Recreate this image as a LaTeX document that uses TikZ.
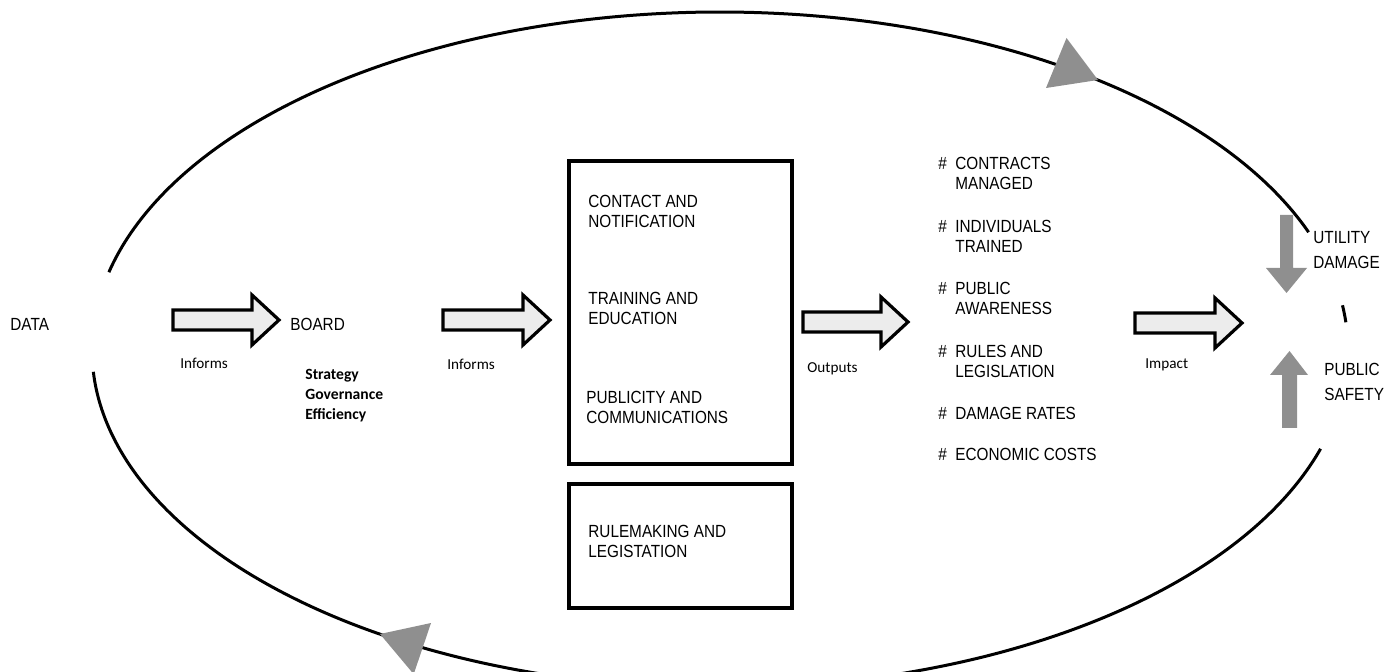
\documentclass[tikz,border=0pt]{standalone}
\usepackage{fontspec}
\setmainfont{Liberation Sans}
\newfontfamily\narrowfont[FakeStretch=0.87]{Liberation Sans}
\newfontfamily\calibrifont{Carlito}
\definecolor{blkfill}{RGB}{236,236,236}
\definecolor{trigray}{RGB}{143,143,143}
\newcommand\blockarrow[3]{%
  \draw[blk] (#1,#3-10) -- (#2-27,#3-10) -- (#2-27,#3-25) -- (#2,#3) -- (#2-27,#3+25) -- (#2-27,#3+10) -- (#1,#3+10) -- cycle;}
\begin{document}
\begin{tikzpicture}[x=0.5pt,y=-0.5pt,
  lbl/.style={anchor=north west,inner sep=0pt,align=left,font=\narrowfont\fontsize{8.8pt}{10pt}\selectfont},
  lblwide/.style={lbl,font=\narrowfont\fontsize{8.8pt}{12.5pt}\selectfont},
  small/.style={anchor=north west,inner sep=0pt,align=left,font=\calibrifont\fontsize{7.6pt}{10pt}\selectfont},
  smallbold/.style={anchor=north west,inner sep=0pt,align=left,font=\calibrifont\bfseries\fontsize{7.8pt}{10pt}\selectfont},
  blk/.style={draw=black,fill=blkfill,line width=1.6pt,line join=miter},
  boxline/.style={draw=black,line width=2pt},
  ell/.style={draw=black,line width=1.5pt},
  tri/.style={fill=trigray,draw=none}]
\useasboundingbox (0,0) rectangle (1396,672);
% ellipse arcs
\draw[ell] plot[domain=20.4:166.7,samples=150,smooth] ({720+628*cos(\x)},{350-338*sin(\x)});
\draw[ell] plot[domain=183.7:343,samples=150,smooth] ({720+628*cos(\x)},{350-338*sin(\x)});
\draw[ell] plot[domain=4.7:7.6,samples=5,smooth] ({720+628*cos(\x)},{350-338*sin(\x)});
% direction triangles on the ellipse
\fill[tri] (1098,80) -- (1066.5,38) -- (1046,88) -- cycle;
\fill[tri] (380,634) -- (431,623) -- (413.7,674.2) -- cycle;
% texts
\node[lbl] (data) at (10,318) {DATA};
\node[lbl] (board) at (290,318) {BOARD};
\node[small] (inf1) at (180,358) {Informs};
\node[smallbold] (sge) at (305,369) {Strategy\\Governance\\Efficiency};
\node[small] (inf2) at (447,359) {Informs};
\node[small] (outp) at (807,362) {Outputs};
\node[small] (impact) at (1145,358) {Impact};
% boxes
\path (569,161) coordinate (b1nw) (792,464) coordinate (b1se);
\path (569,484) coordinate (b2nw) (792,608) coordinate (b2se);
\draw[boxline] (b1nw) rectangle (b1se);
\draw[boxline] (b2nw) rectangle (b2se);
\node[lbl] (contact) at (588,195) {CONTACT AND\\NOTIFICATION};
\node[lbl] (training) at (588,292) {TRAINING AND\\EDUCATION};
\node[lbl] (publicity) at (586,391) {PUBLICITY AND\\COMMUNICATIONS};
\node[lbl] (rulemaking) at (588,525) {RULEMAKING AND\\LEGISTATION};
% outputs list
\node[lbl] (h1) at (938,157) {\#};
\node[lbl] (o1) at (955,157) {CONTRACTS\\MANAGED};
\node[lbl] (h2) at (938,220) {\#};
\node[lbl] (o2) at (955,220) {INDIVIDUALS\\TRAINED};
\node[lbl] (h3) at (938,282) {\#};
\node[lbl] (o3) at (955,282) {PUBLIC\\AWARENESS};
\node[lbl] (h4) at (938,345) {\#};
\node[lbl] (o4) at (955,345) {RULES AND\\LEGISLATION};
\node[lbl] (h5) at (938,407) {\#};
\node[lbl] (o5) at (955,407) {DAMAGE RATES};
\node[lbl] (h6) at (938,448) {\#};
\node[lbl] (o6) at (955,448) {ECONOMIC COSTS};
% right side
\node[lblwide] (utility) at (1313,231) {UTILITY\\DAMAGE};
\node[lblwide] (public) at (1324,363) {PUBLIC\\SAFETY};
% gray arrows
\fill[tri] (1280,215) -- (1293,215) -- (1293,268) -- (1307,268) -- (1286.5,293) -- (1266,268) -- (1280,268) -- cycle;
\fill[tri] (1282,428) -- (1297,428) -- (1297,375) -- (1308,375) -- (1289.5,351) -- (1270,375) -- (1282,375) -- cycle;
% block arrows
\blockarrow{173}{279}{320}
\blockarrow{443}{550}{320}
\blockarrow{803}{908}{322}
\blockarrow{1135}{1242}{323}
\end{tikzpicture}
\end{document}
